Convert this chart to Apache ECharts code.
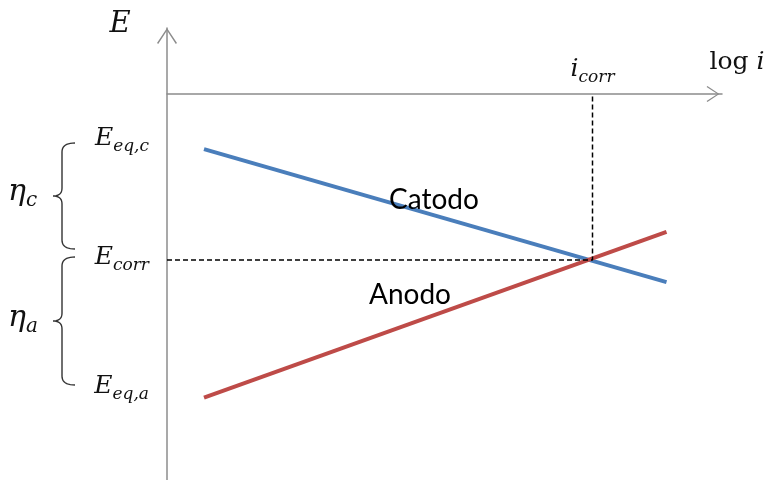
<!DOCTYPE html>
<html>
<head>
<meta charset="utf-8">
<script src="https://cdn.jsdelivr.net/npm/echarts@6/dist/echarts.min.js"></script>
<style>
  html, body { margin: 0; padding: 0; background: #fff; }
  #main { width: 766px; height: 480px; }
</style>
</head>
<body>
<div id="main"></div>
<script>
// log i (arbitrary units) and E (arbitrary units, 0 where the log i axis crosses)
const logI = [1.0, 13.5]
const catodo = [-1.67, -5.7]
const anodo = [-9.2, -4.18]
const iCorr = 11.5
const eCorr = -5.03
// E tick labels on the left
const eTickValues = [-1.42, -5.03, -8.94]
const eTickSubs = ['eq,c', 'corr', 'eq,a']

const mathFont = 'DejaVu Serif'
const axisColor = '#8c8c8c'
const arrow = 'path://M10,0 L20,15 L18.8,16 L10,2.4 L1.2,16 L0,15 Z'

const subRich = {
  m: { fontFamily: mathFont, fontStyle: 'italic', fontSize: 25, lineHeight: 28, padding: [0, 0, 4, 0], verticalAlign: 'bottom', color: '#111' },
  s: { fontFamily: mathFont, fontStyle: 'italic', fontSize: 17, lineHeight: 16, verticalAlign: 'bottom', color: '#111' }
}

const chart = echarts.init(document.getElementById('main'))

const option = {
  animation: false,
  grid: { left: 167, width: 555, top: 28, height: 462, outerBoundsMode: 'none' },
  xAxis: {
    type: 'value',
    min: 0,
    max: 15,
    axisLine: {
      onZero: true,
      symbol: ['none', arrow],
      symbolSize: [16, 18],
      symbolOffset: [0, -9],
      lineStyle: { color: axisColor, width: 1.5 }
    },
    axisTick: { show: false },
    axisLabel: { show: false },
    splitLine: { show: false }
  },
  yAxis: {
    type: 'value',
    min: -12,
    max: 2,
    axisLine: {
      show: true,
      onZero: false,
      symbol: ['none', arrow],
      symbolSize: [20, 16],
      symbolOffset: [0, -8],
      lineStyle: { color: axisColor, width: 1.5 }
    },
    axisTick: { show: false },
    splitLine: { show: false },
    axisLabel: {
      customValues: eTickValues,
      margin: 18,
      formatter: function(v) {
        let k = 0
        eTickValues.forEach((t, i) => { if (Math.abs(t - v) < Math.abs(eTickValues[k] - v)) k = i })
        return '{m|E}{s|' + eTickSubs[k] + '}'
      },
      rich: subRich
    }
  },
  series: [
    {
      name: 'Catodo',
      type: 'line',
      symbol: 'none',
      data: [[logI[0], catodo[0]], [logI[1], catodo[1]]],
      lineStyle: { color: '#4a7ebb', width: 4 }
    },
    {
      name: 'Anodo',
      type: 'line',
      symbol: 'none',
      data: [[logI[0], anodo[0]], [logI[1], anodo[1]]],
      lineStyle: { color: '#be4b48', width: 4 }
    },
    {
      name: 'corr',
      type: 'line',
      symbol: 'circle',
      symbolSize: 0,
      showAllSymbol: true,
      data: [
        [0, eCorr],
        [iCorr, eCorr],
        {
          value: [iCorr, 0],
          label: {
            show: true,
            position: 'top',
            distance: 8,
            formatter: '{m|i}{s|corr}',
            rich: subRich
          }
        }
      ],
      itemStyle: { color: '#000' },
      lineStyle: { color: '#000', width: 1.5, type: [5, 3] }
    }
  ],
  graphic: []
}

chart.setOption(option)

// curly brace as a polyline (quadratic pieces sampled)
function quad(p0, p1, p2, out) {
  for (let t = 0; t <= 1.0001; t += 0.1) {
    const a = (1 - t) * (1 - t), b = 2 * (1 - t) * t, c = t * t
    out.push([a * p0[0] + b * p1[0] + c * p2[0], a * p0[1] + b * p1[1] + c * p2[1]])
  }
}
function brace(y1, y2) {
  const x = 75, xs = 62, tip = 53, r = 9
  const ym = (y1 + y2) / 2
  const pts = []
  quad([x, y1], [xs, y1], [xs, y1 + r], pts)
  quad([xs, ym - 8], [xs, ym], [tip, ym], pts)
  quad([tip, ym], [xs, ym], [xs, ym + 8], pts)
  quad([xs, y2 - r], [xs, y2], [x, y2], pts)
  return pts
}

const braceStyle = { fill: null, stroke: '#333', lineWidth: 1.4 }
const etaRich = {
  m: { fontFamily: mathFont, fontStyle: 'italic', fontSize: 30, lineHeight: 32, padding: [0, 0, 4, 0], verticalAlign: 'bottom', fill: '#111' },
  s: { fontFamily: mathFont, fontStyle: 'italic', fontSize: 20, lineHeight: 18, verticalAlign: 'bottom', fill: '#111' }
}

chart.setOption({
  graphic: [
    { type: 'polyline', shape: { points: brace(143, 249) }, style: braceStyle },
    { type: 'polyline', shape: { points: brace(257, 385) }, style: braceStyle },
    { type: 'text', x: 8, y: 195, style: { text: '{m|η}{s|c}', rich: etaRich, verticalAlign: 'middle' } },
    { type: 'text', x: 8, y: 321, style: { text: '{m|η}{s|a}', rich: etaRich, verticalAlign: 'middle' } },
    { type: 'text', x: 120, y: 24, style: { text: 'E', font: 'italic 29px "DejaVu Serif"', fill: '#111', align: 'center', verticalAlign: 'middle' } },
    {
      type: 'text', x: 737, y: 62,
      style: {
        text: '{r|log }{i|i}', align: 'center', verticalAlign: 'middle',
        rich: {
          r: { fontFamily: mathFont, fontSize: 25, fill: '#111' },
          i: { fontFamily: mathFont, fontStyle: 'italic', fontSize: 25, fill: '#111' }
        }
      }
    },
    { type: 'text', x: 434, y: 200, z: 10, style: { text: 'Catodo', font: '28px Lato', fill: '#000', align: 'center', verticalAlign: 'middle' } },
    { type: 'text', x: 410, y: 295, z: 10, style: { text: 'Anodo', font: '28px Lato', fill: '#000', align: 'center', verticalAlign: 'middle' } }
  ]
})
</script>
</body>
</html>
